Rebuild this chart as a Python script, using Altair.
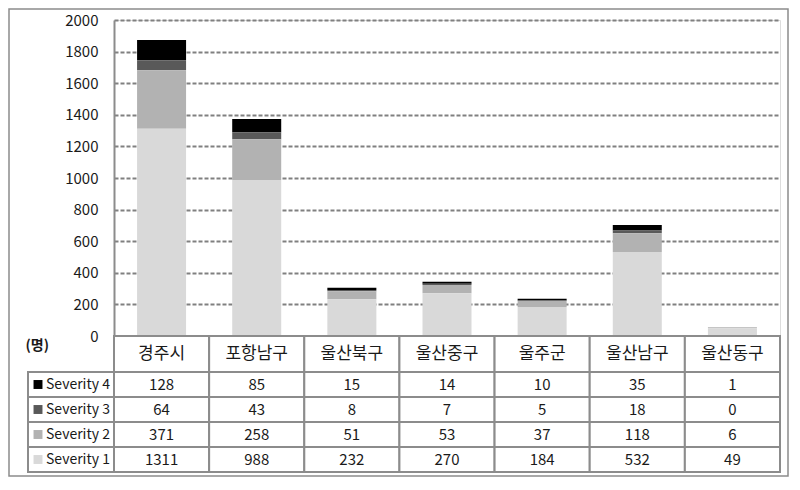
import altair as alt
import pandas as pd

categories = ["경주시", "포항남구", "울산북구", "울산중구", "울주군", "울산남구", "울산동구"]
severities = ["Severity 4", "Severity 3", "Severity 2", "Severity 1"]
sev4 = [128, 85, 15, 14, 10, 35, 1]
sev3 = [64, 43, 8, 7, 5, 18, 0]
sev2 = [371, 258, 51, 53, 37, 118, 6]
sev1 = [1311, 988, 232, 270, 184, 532, 49]
colors = ["#000000", "#595959", "#b2b2b2", "#d9d9d9"]
y_ticks = list(range(0, 2001, 200))
y_title = "(명)"

series = {"Severity 4": sev4, "Severity 3": sev3, "Severity 2": sev2, "Severity 1": sev1}
records = []
for sev, vals in series.items():
    for c, v in zip(categories, vals):
        records.append({"cat": c, "sev": sev, "value": v, "ord": 4 - severities.index(sev)})
df = pd.DataFrame(records)
df_cat = pd.DataFrame({"cat": categories})
df_sev = pd.DataFrame({"sev": severities})
df_one = pd.DataFrame({"k": [0]})

FONT = "Noto Sans CJK KR"
W = 666
PH = 316
HH = 36
RH = 25
TB = PH + HH + 4 * RH
LINE = "#8c8c8c"
TXT = "#1a1a1a"

x = alt.X("cat:N", sort=categories,
          scale=alt.Scale(domain=categories, paddingInner=0, paddingOuter=0),
          axis=None)
row_y = alt.Y("sev:N", sort=severities,
              scale=alt.Scale(domain=severities, range=[PH + HH, TB],
                              paddingInner=0, paddingOuter=0),
              axis=None)
color = alt.Color("sev:N", scale=alt.Scale(domain=severities, range=colors), legend=None)

bars = alt.Chart(df).mark_bar(size=49).encode(
    x=x,
    y=alt.Y("value:Q", stack="zero",
            scale=alt.Scale(domain=[0, 2000], range=[PH, 0], nice=False),
            axis=alt.Axis(values=y_ticks, format="d", grid=True, gridDash=[4, 2],
                          gridColor="#808080", gridWidth=1.8, domainColor=LINE,
                          domainWidth=2, ticks=False, labelPadding=16, labelFontSize=15,
                          labelFont=FONT, labelColor=TXT, title=y_title, titleAngle=0,
                          titleX=-89, titleY=PH + 9, titleAlign="left",
                          titleBaseline="middle", titleFontSize=14, titleFont=FONT,
                          titleFontWeight="bold", titleColor=TXT)),
    color=color,
    order=alt.Order("ord:Q", sort="ascending"),
)

head_cells = alt.Chart(df_cat).mark_rect(fill="white", stroke=LINE, strokeWidth=2).encode(
    x=x, y=alt.value(PH), y2=alt.value(PH + HH))
head_text = alt.Chart(df_cat).mark_text(font=FONT, fontSize=17, color=TXT, baseline="middle").encode(
    x=x, y=alt.value(PH + HH / 2), text="cat:N")

cells = alt.Chart(df).mark_rect(fill="white", stroke=LINE, strokeWidth=2).encode(
    x=x, y=row_y)
label_cells = alt.Chart(df_sev).mark_rect(fill="white", stroke=LINE, strokeWidth=2).encode(
    x=alt.value(-86), x2=alt.value(0), y=row_y)
swatches = alt.Chart(df_sev).mark_square(size=80, opacity=1).encode(
    x=alt.value(-76), y=row_y, color=color)
label_text = alt.Chart(df_sev).mark_text(font=FONT, fontSize=14, color=TXT, align="left",
                                          baseline="middle").encode(
    x=alt.value(-68), y=row_y, text="sev:N")
value_text = alt.Chart(df).mark_text(font=FONT, fontSize=15, color=TXT, baseline="middle").encode(
    x=x, y=row_y, text="value:Q")

frame = alt.Chart(df_one).mark_rect(fill="white", fillOpacity=0, stroke=LINE, strokeWidth=1.5).encode(
    x=alt.value(-105), x2=alt.value(674), y=alt.value(-11), y2=alt.value(TB + 4))

chart = alt.layer(
    bars, head_cells, head_text, cells, label_cells, swatches, label_text, value_text, frame
).resolve_scale(y="independent").properties(
    width=W, height=TB,
    autosize=alt.AutoSizeParams(type="none"),
    padding={"left": 106, "top": 12, "right": 12, "bottom": 5},
).configure_view(stroke=None).configure(background="white")

chart.save("out.html", embed_options={"renderer": "svg", "actions": False})
